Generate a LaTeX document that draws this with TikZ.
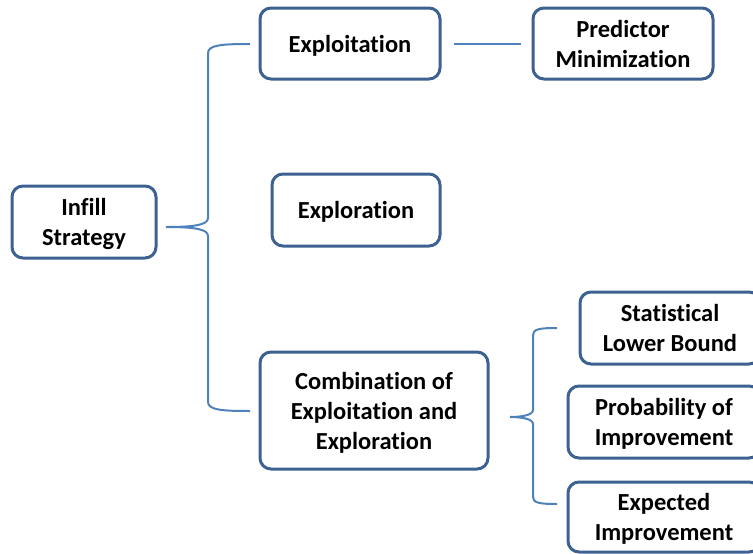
\documentclass[tikz,border=0pt]{standalone}
\usepackage{fontspec}
\setmainfont[Ligatures={NoCommon}]{Carlito}
\definecolor{boxblue}{HTML}{3D6190}
\definecolor{linkblue}{HTML}{4F81BD}
\begin{document}
\begin{tikzpicture}[x=1pt,y=-1pt,
  box/.style={draw=boxblue, line width=3pt, rounded corners=11pt, fill=white,
    align=center, inner sep=0pt, text depth=0pt,
    font=\bfseries\fontsize{24.5}{30}\selectfont},
  link/.style={draw=linkblue, line width=2pt}]
\useasboundingbox (0,0) rectangle (753,554);
\clip (0,0) rectangle (753,554);

% strategy boxes
\node[box, minimum width=144pt, minimum height=72pt] (infill) at (84,222) {Infill\\Strategy};
\node[box, minimum width=180pt, minimum height=71pt] (exploit) at (350,43.5) {Exploitation};
\node[box, minimum width=180pt, minimum height=71pt] (pred) at (623,43.5) {Predictor\\Minimization};
\node[box, minimum width=168pt, minimum height=72pt] (explore) at (356,210) {Exploration};
\node[box, minimum width=228pt, minimum height=117pt] (combo) at (374,410.5) {Combination of\\Exploitation and\\Exploration};
\node[box, minimum width=180pt, minimum height=72pt] (slb) at (670,328) {Statistical\\Lower Bound};
\node[box, minimum width=192pt, minimum height=72pt] (poi) at (664,422) {Probability of\\Improvement};
\node[box, minimum width=192pt, minimum height=70pt] (ei) at (664,517) {Expected\\Improvement};

% exploitation leads to predictor minimization
\draw[link] ([xshift=12pt]exploit.east) -- ([xshift=-11pt]pred.west);

% left brace: infill strategy branches
\coordinate (lbtop) at (250,44);
\coordinate (lbmid) at (166,227);
\coordinate (lbbot) at (250,411);
\draw[link] (lbtop) .. controls (222,44) and (208,45) .. (208,53)
  -- (208,218) .. controls (208,225) and (194,227) .. (lbmid)
  .. controls (194,227) and (208,229) .. (208,236)
  -- (208,402) .. controls (208,410) and (222,411) .. (lbbot);

% right brace: combined criteria
\coordinate (rbtop) at (557,328);
\coordinate (rbmid) at (510,417);
\coordinate (rbbot) at (557,504);
\draw[link] (rbtop) .. controls (540,328) and (533,329) .. (533,335)
  -- (533,410) .. controls (533,415) and (522,417) .. (rbmid)
  .. controls (522,417) and (533,419) .. (533,424)
  -- (533,497) .. controls (533,503) and (540,504) .. (rbbot);
\end{tikzpicture}
\end{document}
